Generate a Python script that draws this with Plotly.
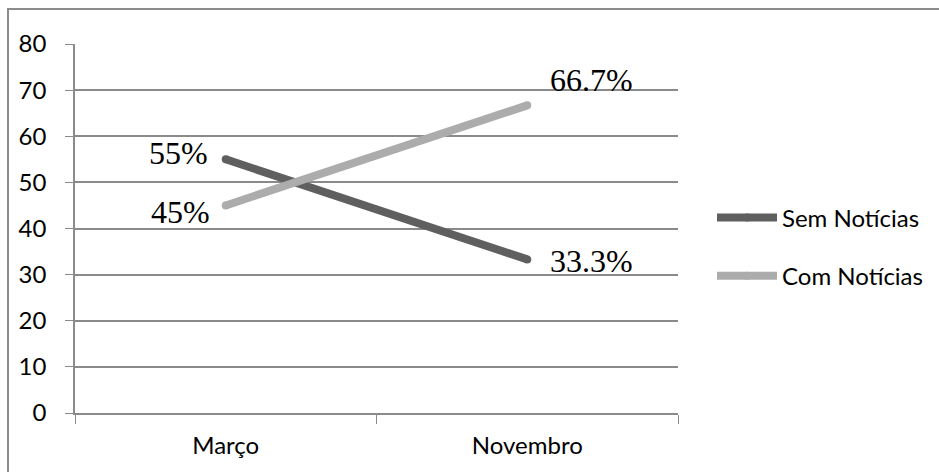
import plotly.graph_objects as go

# Survey share by month
months = ["Março", "Novembro"]
sem_noticias = [55, 33.3]
com_noticias = [45, 66.7]
sem_labels = ["55%", "33.3%"]
com_labels = ["45%", "66.7%"]
y_ticks = [0, 10, 20, 30, 40, 50, 60, 70, 80]

W, H = 939, 472
L, R, T, B = 75, 678, 44, 413

DARK = "#5f5f5f"
LIGHT = "#acacac"
GRID = "#8a8a8a"

fig = go.Figure()
for name, vals, col in [("Sem Notícias", sem_noticias, DARK),
                        ("Com Notícias", com_noticias, LIGHT)]:
    fig.add_trace(go.Scatter(
        x=months, y=vals, name=name, legendgroup=name, mode="lines+markers",
        line=dict(color=col, width=8),
        marker=dict(color=col, size=8, line=dict(width=0)),
    ))

label_font = dict(family="Liberation Serif", size=32, color="#000000")
# left-hand labels (Março)
fig.add_annotation(x=months[0], y=sem_noticias[0], text=sem_labels[0], showarrow=False,
                   xanchor="right", yanchor="middle", xshift=-16, yshift=6, font=label_font)
fig.add_annotation(x=months[0], y=com_noticias[0], text=com_labels[0], showarrow=False,
                   xanchor="right", yanchor="middle", xshift=-14, yshift=-7, font=label_font)
# right-hand labels (Novembro)
fig.add_annotation(x=months[1], y=com_noticias[1], text=com_labels[1], showarrow=False,
                   xanchor="left", yanchor="middle", xshift=21, yshift=25, font=label_font)
fig.add_annotation(x=months[1], y=sem_noticias[1], text=sem_labels[1], showarrow=False,
                   xanchor="left", yanchor="middle", xshift=21, yshift=-2, font=label_font)

# outer frame (top and left edges visible)
pw, ph = R - L, B - T
fig.add_shape(type="rect", xref="paper", yref="paper",
              x0=(8 - L) / pw, x1=(W + 20 - L) / pw,
              y0=(B - (H + 20)) / ph, y1=(B - 9) / ph,
              line=dict(color="#8c8c8c", width=2), fillcolor="rgba(0,0,0,0)", layer="below")

tick_font = dict(family="Lato", size=24, color="#000000")
fig.update_layout(
    width=W, height=H,
    margin=dict(l=L, r=W - R, t=T, b=H - B, autoexpand=False),
    paper_bgcolor="white", plot_bgcolor="white",
    showlegend=True,
    legend=dict(x=(712 - L) / pw, y=(B - 247) / ph, xanchor="left", yanchor="middle",
                font=dict(family="Lato", size=24, color="#000000"),
                tracegroupgap=24, itemwidth=60, bgcolor="rgba(0,0,0,0)"),
    xaxis=dict(type="category", range=[-0.5, 1.5], tickmode="array",
               tickvals=months, ticks="outside", tickson="boundaries",
               ticklen=9, tickcolor=GRID, tickwidth=1, ticklabelstandoff=10,
               showline=True, linecolor=GRID, linewidth=1.5,
               showgrid=False, tickfont=tick_font, zeroline=False),
    yaxis=dict(range=[0, 80], tickvals=y_ticks, ticks="outside",
               ticklen=8, tickcolor=GRID, tickwidth=1, ticklabelstandoff=14,
               showline=True, linecolor=GRID, linewidth=1.5,
               showgrid=True, gridcolor=GRID, gridwidth=1.5,
               tickfont=tick_font, zeroline=False),
)

fig.write_html("out.html")
